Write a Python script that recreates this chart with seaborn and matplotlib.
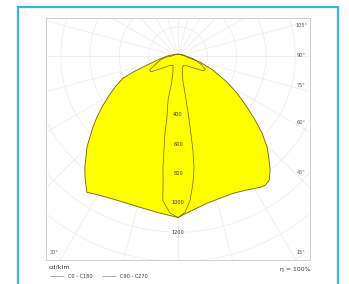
import numpy as np
import pandas as pd
import matplotlib
matplotlib.use("Agg")
import matplotlib.pyplot as plt
from matplotlib.patches import Rectangle
import seaborn as sns

# luminous intensity (cd/klm) vs. gamma angle from nadir
c0_gamma = [0, 3, 11, 22, 28, 32, 34, 36.3, 38.9, 41.2, 44.4, 47.5, 50.3, 53.5, 57.9, 62, 68.2, 74.7,
            84, 90, 100, 120, 150, 180]
c0_cd = [1100, 1073, 1023, 1008, 1030, 1055, 1062, 1050, 1000, 943, 869, 778, 683, 586, 475, 379, 257, 156,
         62, 55, 40, 22, 15, 14]

c180_gamma = [0, 6, 14, 23, 29, 33.8, 37.5, 40, 42.3, 45, 47.4, 50.1, 53, 56.1, 59.6, 63.8, 68.2, 70.4,
              72.6, 79, 90, 100, 120, 150, 180]
c180_cd = [1100, 1079, 1063, 1067, 1087, 1117, 1042, 988, 933, 878, 816, 756, 692, 625, 554, 479, 404, 326,
           250, 146, 75, 45, 22, 15, 14]

c90_gamma = [0, 2.6, 4.8, 6.7, 8.2, 9.0, 9.5, 10.0, 10.5, 11, 13, 20, 30, 45, 55, 60, 64, 70, 78, 85, 90, 120, 180]
c90_cd = [1100, 1066, 986, 873, 766, 650, 530, 420, 300, 188, 130, 90, 72, 95, 150, 200, 208, 170, 120, 80, 45, 20, 14]

c270_gamma = [0, 3, 6, 6.7, 7.7, 8.5, 9.6, 10.2, 11.5, 12.8, 13.5, 16, 20, 29, 45, 53, 60, 64, 69, 77, 85, 90, 120, 180]
c270_cd = [1100, 1070, 990, 873, 765, 648, 535, 423, 360, 300, 190, 130, 100, 70, 95, 137, 215, 214, 170, 126, 80, 45, 20, 14]

ring_labels = [400, 600, 800, 1000, 1200]
angle_labels = ["105°", "90°", "75°", "60°", "45°", "15°"]
corner_label = "30°"
legend_names = ["C0 - C180", "C90 - C270"]


def half_plane(gamma, cd, side):
    g = np.radians(gamma)
    cd = np.asarray(cd, dtype=float)
    return pd.DataFrame({"x": side * cd * np.sin(g), "y": -cd * np.cos(g)})


def closed_curve(g_right, cd_right, g_left, cd_left):
    right = half_plane(g_right, cd_right, 1)
    left = half_plane(g_left, cd_left, -1).iloc[::-1]
    return pd.concat([right, left], ignore_index=True)


sns.set_style("white")
plt.rcParams["font.family"] = ["DejaVu Sans"]

fig = plt.figure(figsize=(3.49, 2.84), dpi=100)
ax = fig.add_axes([46 / 349, 24 / 284, 264 / 349, 242 / 284])
ax.set_xlim(-900, 900)
ax.set_ylim(-1390, 260)

# polar grid, very faint
grid_col = "#ededed"
t = np.linspace(0, 2 * np.pi, 400)
for r in range(200, 1801, 200):
    ax.plot(r * np.cos(t), r * np.sin(t), color=grid_col, lw=0.55, zorder=1)
for a in range(0, 360, 15):
    ar = np.radians(a)
    ax.plot([0, 2000 * np.cos(ar)], [0, 2000 * np.sin(ar)], color=grid_col, lw=0.55, zorder=1)

wide = closed_curve(c0_gamma, c0_cd, c180_gamma, c180_cd)
narrow = closed_curve(c90_gamma, c90_cd, c270_gamma, c270_cd)

edge = "#6e6410"
ax.fill(wide["x"], wide["y"], color="#ffff00", zorder=2, lw=0)
ax.fill(narrow["x"], narrow["y"], color="#ffff00", zorder=2, lw=0)
sns.lineplot(data=wide, x="x", y="y", sort=False, estimator=None, color=edge, lw=0.6, ax=ax, zorder=3)
sns.lineplot(data=narrow, x="x", y="y", sort=False, estimator=None, color=edge, lw=0.5, ax=ax, zorder=3)

for v in ring_labels:
    ax.text(0, -v, str(v), fontsize=3.6, color="#333333", ha="center", va="center", zorder=4)

label_y = [0.967, 0.843, 0.723, 0.57, 0.36, 0.029]
for lab, yy in zip(angle_labels, label_y):
    ax.text(0.966, yy, lab, transform=ax.transAxes, fontsize=3.6, color="#555555",
            ha="center", va="center", zorder=4)
ax.text(0.03, 0.029, corner_label, transform=ax.transAxes, fontsize=3.6, color="#555555",
        ha="center", va="center", zorder=4)

ax.set_xlabel("")
ax.set_ylabel("")
ax.set_xticks([])
ax.set_yticks([])
for s in ax.spines.values():
    s.set_color("#cfcfcf")
    s.set_linewidth(0.7)

# captions and legend under the box
fig.text(49 / 349, 1 - 267 / 284, "cd/klm", fontsize=4.6, color="#333333", va="center")
fig.text(310 / 349, 1 - 270 / 284, "η = 100%", fontsize=4.4, color="#333333", va="center", ha="right")
lx = [(50, 64, 68), (102, 116, 120)]
for (x0, x1, tx), name in zip(lx, legend_names):
    fig.lines.append(plt.Line2D([x0 / 349, x1 / 349], [1 - 276 / 284] * 2, transform=fig.transFigure,
                                color="#888888", lw=0.5))
    fig.text(tx / 349, 1 - 276 / 284, name, fontsize=3.6, color="#333333", va="center")

# outer blue frame, its bottom edge lies below the image
fig.patches.append(Rectangle((18 / 349, -0.1), (338 - 18) / 349, (284 - 7) / 284 + 0.1,
                             transform=fig.transFigure, fill=False, edgecolor="#33b5ea", lw=1.6))

fig.savefig("out.png", dpi=100, facecolor="white")
